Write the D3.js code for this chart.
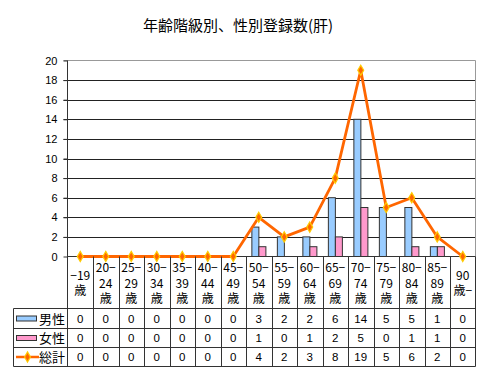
<!DOCTYPE html>
<html><head><meta charset="utf-8">
<script src="https://cdn.jsdelivr.net/npm/d3@7"></script>
<style>body{margin:0;background:#fff}svg{display:block;font-family:"Noto Sans CJK JP","Noto Sans",sans-serif}</style>
</head><body>
<script>
const title = "年齢階級別、性別登録数(肝)";
const categories = ["−19歳","20−24歳","25−29歳","30−34歳","35−39歳","40−44歳","45−49歳","50−54歳","55−59歳","60−64歳","65−69歳","70−74歳","75−79歳","80−84歳","85−89歳","90歳−"];
const catLines = [["−19","歳"],["20−","24","歳"],["25−","29","歳"],["30−","34","歳"],["35−","39","歳"],["40−","44","歳"],["45−","49","歳"],["50−","54","歳"],["55−","59","歳"],["60−","64","歳"],["65−","69","歳"],["70−","74","歳"],["75−","79","歳"],["80−","84","歳"],["85−","89","歳"],["90","歳−"]];
const male   = [0,0,0,0,0,0,0,3,2,2,6,14,5,5,1,0];
const female = [0,0,0,0,0,0,0,1,0,1,2,5,0,1,1,0];
const total  = [0,0,0,0,0,0,0,4,2,3,8,19,5,6,2,0];
const seriesNames = ["男性","女性","総計"];
const yTicks = [0,2,4,6,8,10,12,14,16,18,20];

const W=480,H=369;
const L=67.5,R=475.5,T=60.5,B=256.5;
const svg=d3.select("body").append("svg").attr("width",W).attr("height",H);
const x=d3.scaleBand().domain(categories).range([L,R]);
const bw=x.bandwidth();
const x1=d3.scaleBand().domain(["m","f"]).range([bw*0.23,bw*0.78]);
const y=d3.scaleLinear().domain([0,20]).range([B,T]);

svg.append("text").attr("x",238).attr("y",31).attr("text-anchor","middle").attr("font-size",15).attr("fill","#000").text(title);

// gridlines
svg.append("g").selectAll("line").data(yTicks.filter(d=>d>0&&d<20)).join("line")
 .attr("x1",L-4).attr("x2",R).attr("y1",d=>Math.round(y(d))+0.5).attr("y2",d=>Math.round(y(d))+0.5)
 .attr("stroke","#222").attr("stroke-width",1);
// plot border top/right
svg.append("path").attr("d",`M${L-4},${T}H${R}V${B}`).attr("fill","none").attr("stroke","#999");
// y axis
const ya=svg.append("g").attr("transform",`translate(${L},0)`).call(d3.axisLeft(y).tickValues(yTicks).tickSize(4).tickPadding(6));
ya.select(".domain").remove();
ya.selectAll("line").attr("stroke","#333");
ya.selectAll("text").attr("font-size",11).attr("font-family","Liberation Sans, Arial, sans-serif").attr("fill","#000");

// bars
const g=svg.append("g");
g.selectAll("rect.m").data(male).join("rect").attr("class","m")
 .attr("x",(d,i)=>x(categories[i])+x1("m")).attr("width",x1.bandwidth())
 .attr("y",d=>y(d)).attr("height",d=>B-y(d))
 .attr("fill","#99ccff").attr("stroke","#333").attr("stroke-width",1).attr("display",d=>d>0?null:"none");
g.selectAll("rect.f").data(female).join("rect").attr("class","f")
 .attr("x",(d,i)=>x(categories[i])+x1("f")).attr("width",x1.bandwidth())
 .attr("y",d=>y(d)).attr("height",d=>B-y(d))
 .attr("fill","#ff99cc").attr("stroke","#333").attr("stroke-width",1).attr("display",d=>d>0?null:"none");

// axes lines
svg.append("line").attr("x1",L).attr("x2",R).attr("y1",B).attr("y2",B).attr("stroke","#333");
svg.append("line").attr("x1",L).attr("x2",L).attr("y1",T).attr("y2",366.5).attr("stroke","#333");

// line series
const cx=i=>x(categories[i])+bw/2;
svg.append("path").datum(total).attr("d",d3.line().x((d,i)=>cx(i)).y(d=>y(d)))
 .attr("fill","none").attr("stroke","#ff6600").attr("stroke-width",2.8).attr("stroke-linejoin","round");
const diamond=d3.symbol().type(d3.symbolDiamond).size(30);
svg.append("g").selectAll("path").data(total).join("path").attr("d",diamond)
 .attr("transform",(d,i)=>`translate(${cx(i)},${y(d)})`)
 .attr("fill","#ff6600").attr("stroke","#ffcc00").attr("stroke-width",1.2);

// table
const rowY=[256.5,308.5,328.5,347.5,366.5];
const tl=svg.append("g").attr("stroke","#333").attr("stroke-width",1);
// vertical lines in table
categories.forEach((c,i)=>{ if(i>0) tl.append("line").attr("x1",Math.round(x(c))+0.5).attr("x2",Math.round(x(c))+0.5).attr("y1",B).attr("y2",366.5); });
tl.append("line").attr("x1",R).attr("x2",R).attr("y1",B).attr("y2",366.5);
tl.append("line").attr("x1",13.5).attr("x2",13.5).attr("y1",308.5).attr("y2",366.5);
[308.5,328.5,347.5,366.5].forEach(yy=>tl.append("line").attr("x1",13.5).attr("x2",R).attr("y1",yy).attr("y2",yy));

// category labels
const cg=svg.append("g").attr("font-size",12).attr("text-anchor","middle").attr("fill","#000");
catLines.forEach((lines,i)=>{
  const n=lines.length, mid=283, lh=15.5;
  lines.forEach((t,k)=>{
    cg.append("text").attr("x",cx(i)).attr("y",mid+(k-(n-1)/2)*lh+4.5).text(t);
  });
});
// values
const rows=[male,female,total];
const vg=svg.append("g").attr("font-size",11.5).attr("text-anchor","middle").attr("fill","#000").attr("font-family","Liberation Sans, Arial, sans-serif");
rows.forEach((r,ri)=>{
  const yc=(rowY[ri+1]+rowY[ri+2])/2;
  r.forEach((v,i)=>vg.append("text").attr("x",cx(i)).attr("y",yc+4).text(v));
});
// legend keys
const lg=svg.append("g");
const ky=[(rowY[1]+rowY[2])/2,(rowY[2]+rowY[3])/2,(rowY[3]+rowY[4])/2];
lg.append("rect").attr("x",16.5).attr("y",ky[0]-2.5).attr("width",20).attr("height",5).attr("fill","#99ccff").attr("stroke","#333");
lg.append("rect").attr("x",16.5).attr("y",ky[1]-2.5).attr("width",20).attr("height",5).attr("fill","#ff99cc").attr("stroke","#333");
lg.append("line").attr("x1",16).attr("x2",39).attr("y1",ky[2]).attr("y2",ky[2]).attr("stroke","#ff6600").attr("stroke-width",2.5);
lg.append("path").attr("d",diamond).attr("transform",`translate(27.5,${ky[2]})`).attr("fill","#ff6600").attr("stroke","#ffcc00").attr("stroke-width",1.2);
seriesNames.forEach((s,i)=>lg.append("text").attr("x",39).attr("y",ky[i]+5).attr("font-size",13).attr("fill","#000").text(s));
</script>
</body></html>
